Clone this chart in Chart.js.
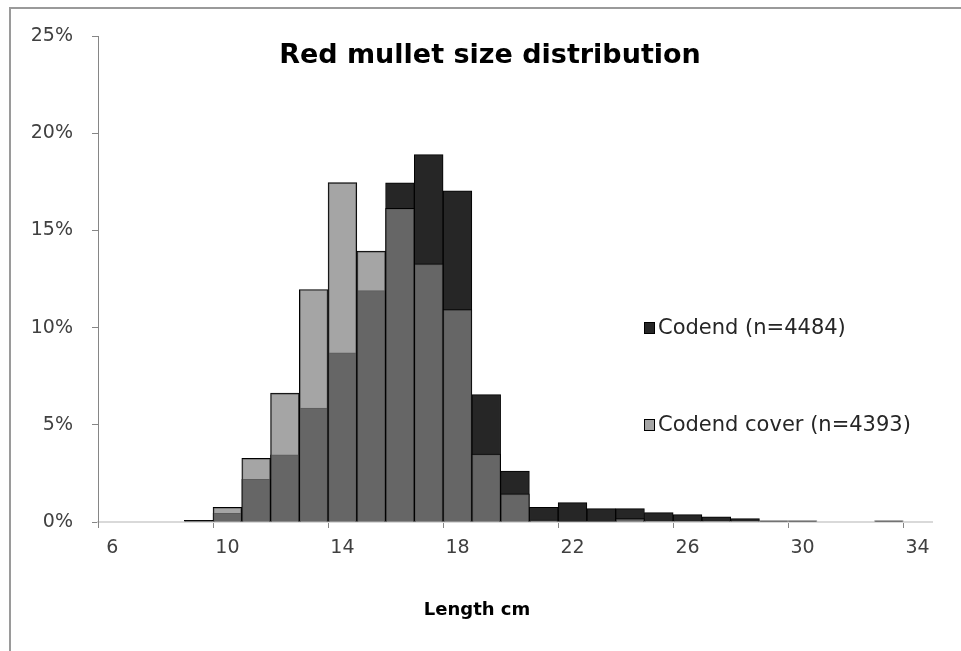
<!DOCTYPE html>
<html>
<head>
<meta charset="utf-8">
<script src="https://cdn.jsdelivr.net/npm/chart.js@4.4.0/dist/chart.umd.min.js"></script>
<style>
  body { margin: 0; background: #fff; }
  #wrap { position: relative; width: 961px; height: 651px; overflow: hidden; background: #fff; }
  #frame { position: absolute; left: 9px; top: 7px; width: 1200px; height: 900px; border-top: 2px solid #9a9a9a; border-left: 2px solid #9a9a9a; }
  #chart-mullet { position: absolute; left: 0; top: 0; }
</style>
</head>
<body>
<div id="wrap">
  <div id="frame"></div>
  <canvas id="chart-mullet" width="961" height="651"></canvas>
</div>
<script>
const lengthClasses = [6, 7, 8, 9, 10, 11, 12, 13, 14, 15, 16, 17, 18, 19, 20,
  21, 22, 23, 24, 25, 26, 27, 28, 29, 30, 31, 32, 33, 34];
// percent of fish in each 1 cm class
const codendPct = [0, 0, 0, 0.08, 0.45, 2.2, 3.45, 5.86, 8.7, 11.9, 17.45, 18.9, 17.03, 6.55, 2.62,
  0.76, 1.0, 0.69, 0.69, 0.48, 0.38, 0.27, 0.17, 0.06, 0.06, 0, 0, 0.06, 0];
const coverPct = [0, 0, 0, 0, 0.76, 3.28, 6.63, 11.96, 17.46, 13.93, 16.13, 13.28, 10.93, 3.49, 1.45,
  0.1, 0.03, 0.03, 0.17, 0, 0, 0, 0, 0, 0, 0, 0, 0, 0];
const seriesNames = ["Codend (n=4484)", "Codend cover (n=4393)"];
const chartTitle = "Red mullet size distribution";
const xAxisTitle = "Length cm";

const ctxMullet = document.querySelector("#chart-mullet").getContext("2d");

// title, axis title and legend sit on top of the plot like in the excel original
const textOverlay = {
  id: "textOverlay",
  afterDraw(chart) {
    const { ctx } = chart;
    ctx.save();
    ctx.textBaseline = "middle";

    ctx.fillStyle = "#000";
    ctx.textAlign = "center";
    ctx.font = 'bold 27px "DejaVu Sans"';
    ctx.fillText(chartTitle, 490, 56);

    ctx.font = 'bold 18px "DejaVu Sans"';
    ctx.fillText(xAxisTitle, 477, 610);

    ctx.textAlign = "left";
    ctx.font = '21px "DejaVu Sans"';
    const legendY = [328, 425];
    chart.data.datasets.forEach((ds, i) => {
      ctx.fillStyle = ds.legendColor;
      ctx.fillRect(644, legendY[i] - 6, 11, 12);
      ctx.strokeStyle = "#000";
      ctx.lineWidth = 1;
      ctx.strokeRect(644.5, legendY[i] - 5.5, 10, 11);
      ctx.fillStyle = "#262626";
      ctx.fillText(ds.label, 658, legendY[i] + 1);
    });
    ctx.restore();
  },
};

new Chart(ctxMullet, {
  type: "bar",
  data: {
    labels: lengthClasses,
    datasets: [
      {
        label: seriesNames[0],
        data: codendPct,
        backgroundColor: "#262626",
        legendColor: "#262626",
        borderColor: "#000",
        borderWidth: 1,
        order: 2,
      },
      {
        label: seriesNames[1],
        data: coverPct,
        backgroundColor: "rgba(128,128,128,0.71)",
        legendColor: "#a5a5a5",
        borderColor: "#000",
        borderWidth: 1,
        order: 1,
      },
    ],
  },
  options: {
    responsive: false,
    animation: false,
    layout: { padding: { top: 36, right: 29, bottom: 0, left: 0 } },
    datasets: {
      bar: { barPercentage: 1, categoryPercentage: 1, grouped: false },
    },
    scales: {
      x: {
        offset: true,
        afterFit: (s) => { s.height = 651 - 522; },
        border: { color: "#d9d9d9", width: 2 },
        grid: {
          offset: true,
          drawOnChartArea: false,
          tickLength: 6,
          color: (c) => (c.index % 4 === 0 && c.index < lengthClasses.length ? "#868686" : "rgba(0,0,0,0)"),
        },
        ticks: {
          autoSkip: false,
          maxRotation: 0,
          padding: 9,
          color: "#404040",
          font: { family: "DejaVu Sans", size: 19 },
          callback: function (v, i) { return i % 4 === 0 ? this.getLabelForValue(v) : ""; },
        },
      },
      y: {
        min: 0,
        max: 25,
        afterFit: (s) => { s.width = 98; },
        border: { color: "#868686", width: 1 },
        grid: { drawOnChartArea: false, tickLength: 6, color: "#868686" },
        ticks: {
          stepSize: 5,
          padding: 19,
          color: "#404040",
          font: { family: "DejaVu Sans", size: 19 },
          callback: (v) => v + "%",
        },
      },
    },
    plugins: {
      legend: { display: false },
      title: { display: false },
      tooltip: { enabled: false },
    },
  },
  plugins: [textOverlay],
});
</script>
</body>
</html>
